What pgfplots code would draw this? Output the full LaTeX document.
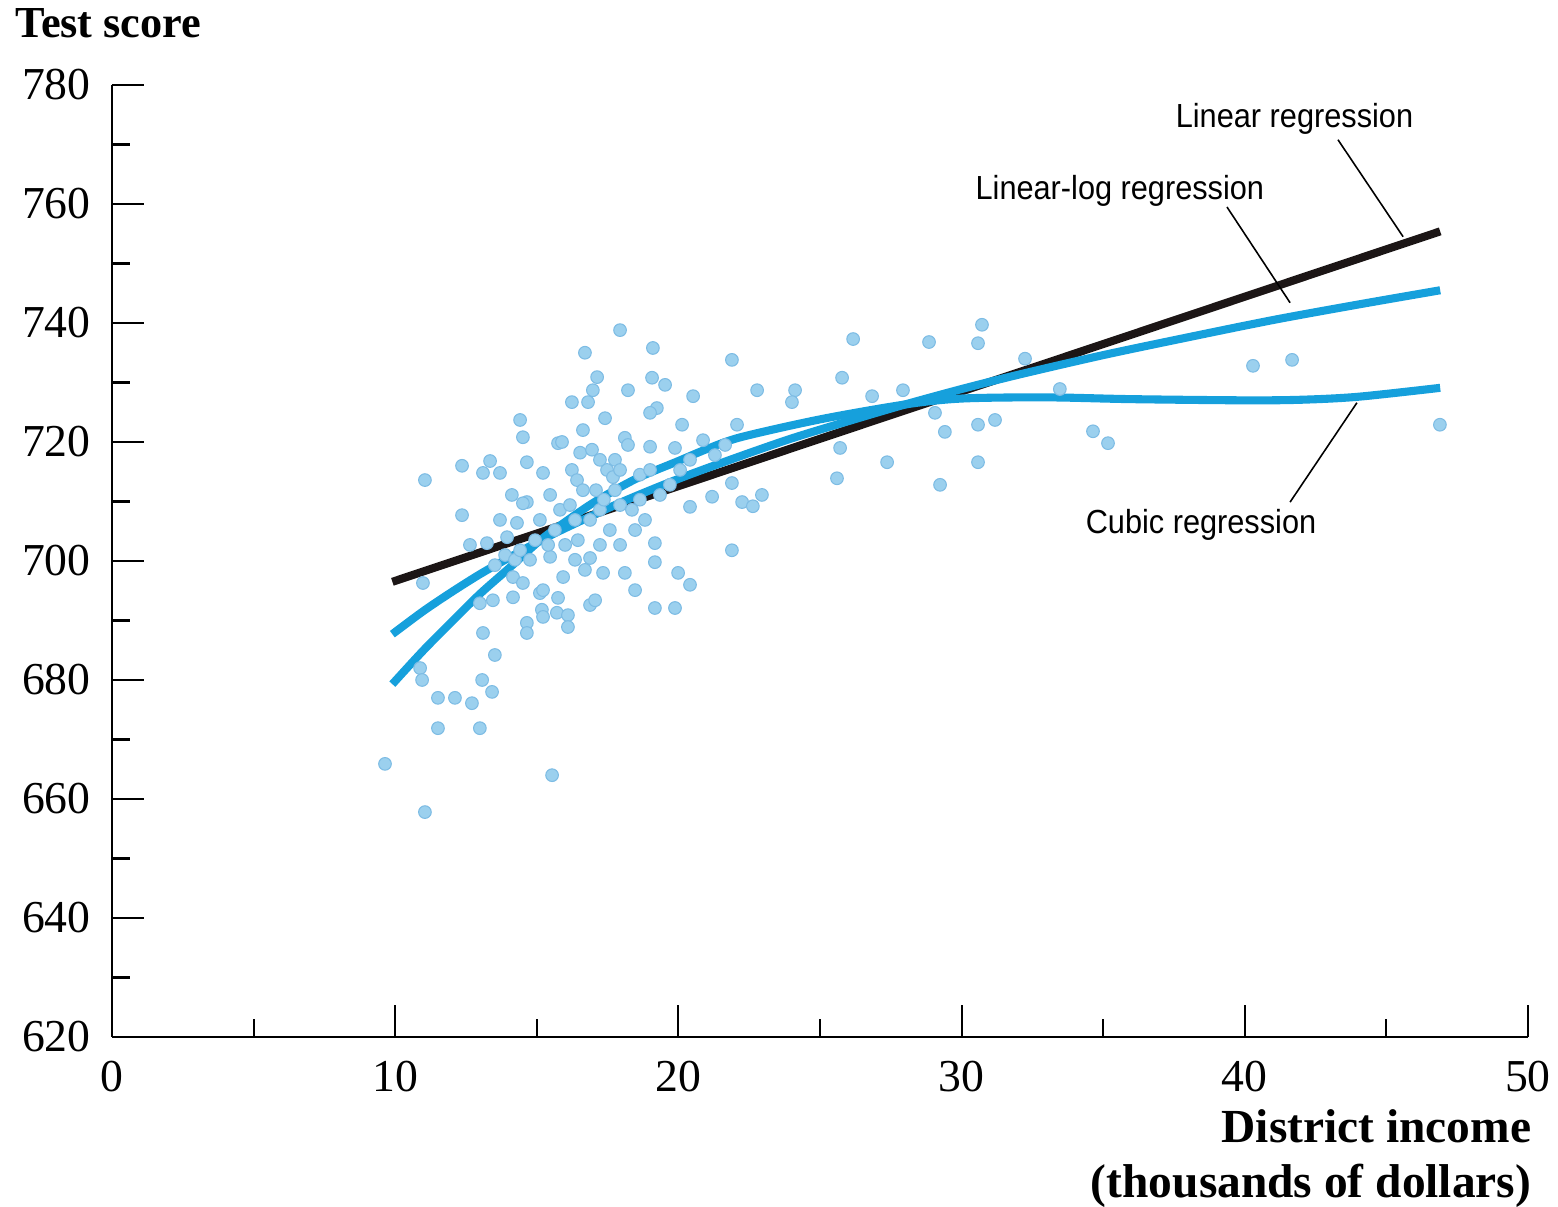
\documentclass[border=0pt]{standalone}
\usepackage{fontspec}
\setmainfont{Liberation Serif}
\newfontfamily\annfont[FakeStretch=0.92]{Liberation Sans}
\usepackage{pgfplots}
\pgfplotsset{compat=1.18}
\definecolor{ptblue}{RGB}{155,208,238}
\definecolor{ptedge}{RGB}{125,188,228}
\definecolor{curveblue}{RGB}{22,160,220}
\definecolor{linblack}{RGB}{28,22,22}

\pgfplotstableread{
x y
9.64 665.9
11.05 657.8
15.54 664.0
11.05 713.6
11.51 677.0
12.11 677.0
11.51 671.9
12.99 671.9
12.71 676.1
13.07 680.0
13.42 678.0
13.52 684.2
13.10 687.9
10.88 682.0
10.95 680.0
10.98 696.3
12.36 716.0
12.36 707.7
13.10 714.8
13.35 716.8
13.70 714.8
14.41 723.7
14.51 720.8
14.65 716.6
15.22 714.8
15.75 719.8
14.12 711.1
14.65 709.9
15.47 711.1
14.51 709.7
14.30 706.4
15.11 706.9
13.24 703.0
13.95 704.0
14.16 697.3
14.51 696.3
14.16 693.9
13.45 693.4
12.99 692.9
15.11 694.6
15.18 691.8
14.65 689.6
14.65 687.9
15.71 691.3
15.22 695.1
15.22 690.6
15.47 700.7
15.75 693.8
15.93 697.3
16.10 690.9
16.10 688.9
16.88 692.6
17.06 693.4
16.88 700.5
17.34 698.0
18.11 698.0
18.47 695.1
19.17 703.0
19.17 699.8
19.17 692.1
19.88 692.1
19.99 698.0
20.41 696.0
20.41 709.1
21.89 701.8
17.94 738.8
16.70 735.0
19.10 735.8
21.89 733.8
17.13 730.9
16.98 728.7
19.07 730.8
19.53 729.6
18.22 728.7
16.24 726.7
16.81 726.7
20.52 727.7
19.24 725.7
19.00 724.9
17.41 724.0
16.63 722.0
20.13 722.9
22.07 722.9
15.89 720.0
18.11 720.7
18.22 719.5
19.00 719.2
19.88 719.0
20.87 720.3
16.53 718.2
16.95 718.7
16.24 715.3
17.48 715.3
17.69 714.1
16.42 713.6
16.63 711.9
22.78 728.7
24.12 728.7
24.01 726.7
25.78 730.8
26.17 737.3
26.84 727.7
27.93 728.7
28.85 736.8
30.72 739.7
30.58 736.6
29.06 724.9
29.41 721.7
30.58 722.9
31.18 723.7
25.71 719.0
27.37 716.6
30.58 716.6
25.60 713.9
29.24 712.8
21.89 713.1
22.25 709.9
22.95 711.1
22.63 709.2
32.24 734.0
33.47 728.9
34.64 721.8
35.17 719.8
40.29 732.8
41.67 733.8
46.89 722.9
21.19 710.8
15.82 708.6
16.17 709.4
16.35 706.9
16.88 706.9
17.23 708.6
17.09 711.9
17.37 710.3
17.76 711.9
17.94 709.4
18.36 708.6
18.64 710.3
18.82 706.9
18.47 705.2
17.58 705.2
15.64 705.2
16.00 702.7
16.45 703.5
17.23 702.7
17.94 702.7
16.70 698.5
16.35 700.2
17.23 717.0
17.76 717.0
17.94 715.3
18.64 714.5
19.35 711.1
19.70 712.8
20.06 715.3
20.41 717.0
21.29 717.8
21.65 719.5
19.00 715.3
14.94 703.5
13.88 701.0
13.52 699.3
14.23 700.2
14.76 700.2
13.70 706.9
12.64 702.7
14.41 701.8
15.40 702.7
}\scatterdata

\pgfplotstableread{
x y
9.9 687.7
11 691.6
12 694.8
13 697.8
14 700.5
15 703.1
16 705.5
18 709.9
20 713.8
22 717.3
24 720.6
26 723.5
28 726.3
30 728.9
32 731.3
35 734.6
38 737.6
41 740.5
44 743.1
46.9 745.5
}\linlogdata

\pgfplotstableread{
x y
9.9 679.3
11 685.0
12 689.8
13 694.5
14 698.7
15 703.0
15.6 705.2
17 709.8
18.5 713.8
20 716.8
21 718.8
22.2 720.8
25 723.8
28 726.3
30 727.3
33 727.5
36 727.2
40 727.0
42 727.1
44 727.6
46.9 729.1
}\cubicdata

\begin{document}
\begin{tikzpicture}
\useasboundingbox (-11.2mm,-17mm) rectangle (144.6mm,103.7mm);
\begin{axis}[
  at={(0,0)}, anchor=south west,
  scale only axis, width=141.6mm, height=95.2mm,
  xmin=0, xmax=50, ymin=620, ymax=780,
  axis lines=left,
  axis line style={-, line width=0.6pt, black},
  xtick={0,10,...,50}, minor x tick num=1,
  ytick={620,640,...,780}, minor y tick num=1,
  tick align=inside,
  major tick length=3.2mm, minor tick length=1.8mm,
  tick style={black, line width=0.6pt},
  tick label style={font=\fontsize{13}{15}\selectfont},
  xticklabel style={yshift=-1.2mm},
  yticklabel style={xshift=-0.9mm},
  /pgf/number format/assume math mode=true,
  /pgf/number format/1000 sep={},
  clip=false,
]
\addplot[only marks, mark=*, mark size=1.8pt,
  mark options={fill=ptblue, draw=ptedge, line width=0.3pt}] table[x=x,y=y] {\scatterdata};
\addplot[linblack, line width=2.3pt] coordinates {(9.9,696.5) (46.9,755.4)};
\addplot[curveblue, line width=2.3pt, smooth] table[x=x,y=y] {\linlogdata};
\addplot[curveblue, line width=2.3pt, smooth] table[x=x,y=y] {\cubicdata};

\draw[line width=0.45pt] (axis cs:43.29,770.8) -- (axis cs:45.59,754.5);
\draw[line width=0.45pt] (axis cs:39.37,759.5) -- (axis cs:41.60,743.4);
\draw[line width=0.45pt] (axis cs:43.96,726.6) -- (axis cs:41.60,709.9);

\node[anchor=base west, inner sep=0, font=\annfont\fontsize{9.5}{11}\selectfont] at (axis cs:37.54,772.8) {Linear regression};
\node[anchor=base west, inner sep=0, font=\annfont\fontsize{9.5}{11}\selectfont] at (axis cs:30.47,760.7) {Linear-log regression};
\node[anchor=base west, inner sep=0, font=\annfont\fontsize{9.5}{11}\selectfont] at (axis cs:34.36,704.7) {Cubic regression};

\node[anchor=base west, inner sep=0, font=\bfseries\fontsize{12.6}{14}\selectfont] at (axis cs:-3.43,787.9) {Test score};
\node[anchor=base east, inner sep=0, font=\bfseries\fontsize{13.5}{15}\selectfont] at (axis cs:50.14,602.2) {District income};
\node[anchor=base east, inner sep=0, font=\bfseries\fontsize{13.5}{15}\selectfont] at (axis cs:50.14,593.0) {(thousands of dollars)};
\end{axis}
\end{tikzpicture}
\end{document}
